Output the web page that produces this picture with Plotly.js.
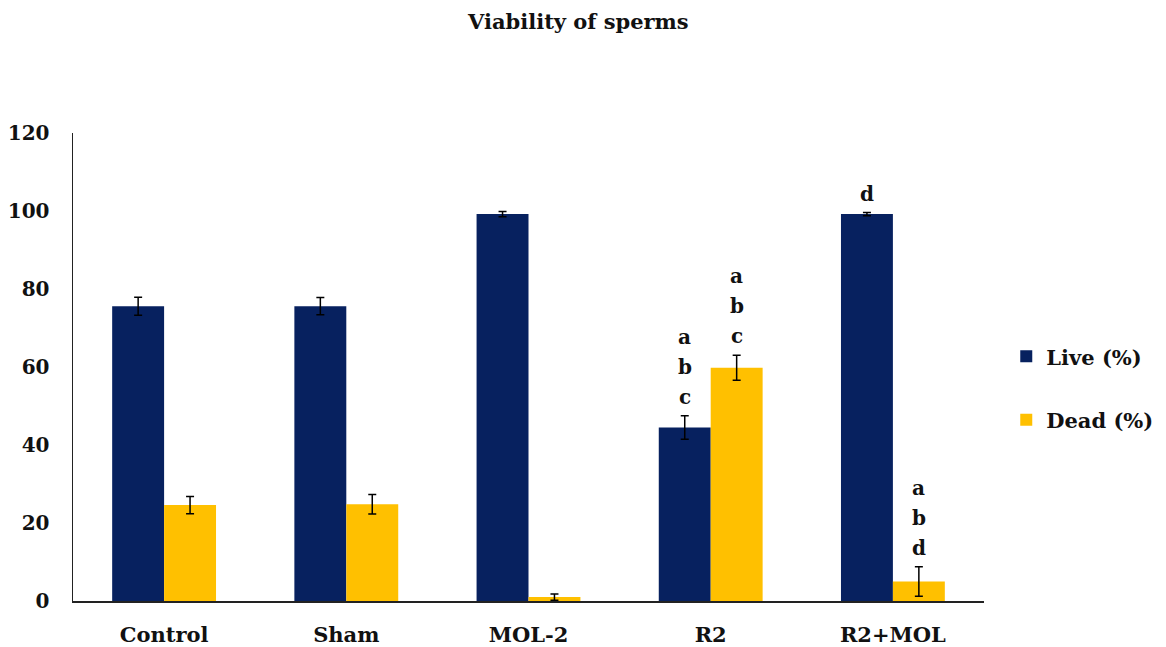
<!DOCTYPE html>
<html>
<head>
<meta charset="utf-8">
<script src="https://cdn.plot.ly/plotly-3.0.1.min.js"></script>
<style>html,body{margin:0;padding:0;background:#fff;}#chart{width:1166px;height:647px;}</style>
</head>
<body>
<div id="chart"></div>
<script>
const categories = ['Control', 'Sham', 'MOL-2', 'R2', 'R2+MOL'];
const liveValues = [75.6, 75.6, 99.2, 44.5, 99.2];
const liveErrors = [2.3, 2.2, 0.7, 3.0, 0.4];
const deadValues = [24.6, 24.8, 1.0, 59.8, 5.0];
const deadErrors = [2.2, 2.5, 0.8, 3.2, 3.8];
const liveLetters = ['', '', '', 'a,b,c', 'd'];
const deadLetters = ['', '', '', 'a,b,c', 'a,b,d'];
const yTicks = [0, 20, 40, 60, 80, 100, 120];

const navy = '#07215f';
const gold = '#ffc000';
const serif = 'DejaVu Serif';

const traces = [
  {
    type: 'bar', name: '<b>Live (%)</b>', x: categories, y: liveValues, legendgroup: 'live',
    marker: {color: navy},
    error_y: {type: 'data', array: liveErrors, visible: true, color: '#000', thickness: 1.5, width: 4}
  },
  {
    type: 'bar', name: '<b>Dead (%)</b>', x: categories, y: deadValues, legendgroup: 'dead',
    marker: {color: gold},
    error_y: {type: 'data', array: deadErrors, visible: true, color: '#000', thickness: 1.5, width: 4}
  }
];

const annotations = [];
function addLetters(letters, values, errors, xshift) {
  letters.forEach((s, i) => {
    if (!s) return;
    const parts = s.split(',');
    const n = parts.length;
    parts.forEach((p, j) => {
      annotations.push({
        x: categories[i], y: values[i] + errors[i], xref: 'x', yref: 'y',
        text: '<b>' + p + '</b>', showarrow: false, xshift: xshift,
        yanchor: 'middle', yshift: 19 + 30 * (n - 1 - j),
        font: {family: serif, size: 20, color: '#111'}
      });
    });
  });
}
addLetters(liveLetters, liveValues, liveErrors, -26);
addLetters(deadLetters, deadValues, deadErrors, 26);

const layout = {
  width: 1166, height: 647,
  paper_bgcolor: '#fff', plot_bgcolor: '#fff',
  margin: {l: 73, r: 182, t: 133, b: 46},
  title: {
    text: '<b>Viability of sperms</b>',
    font: {family: serif, size: 21, color: '#111'},
    x: 0.496, xanchor: 'center', yref: 'container', y: 0.966, yanchor: 'middle'
  },
  barmode: 'group', bargap: 0.43, bargroupgap: 0,
  showlegend: true,
  legend: {
    xref: 'container', yref: 'container',
    x: 0.863, xanchor: 'left', y: 0.40, yanchor: 'middle',
    font: {family: serif, size: 21, color: '#111'},
    traceorder: 'grouped', tracegroupgap: 33, itemwidth: 30,
    bgcolor: 'rgba(0,0,0,0)'
  },
  xaxis: {
    type: 'category', showline: true, linecolor: '#222', linewidth: 1.5,
    showgrid: false, zeroline: false, automargin: false,
    ticks: 'outside', ticklen: 14, tickcolor: 'rgba(0,0,0,0)',
    tickfont: {family: serif, size: 21, color: '#111'},
    tickprefix: '<b>', ticksuffix: '</b>'
  },
  yaxis: {
    range: [0, 120], tickvals: yTicks, ticktext: yTicks.map(v => '<b>' + v + '</b>'),
    showline: true, linecolor: '#222', linewidth: 1.5,
    showgrid: false, zeroline: false, automargin: false,
    ticks: 'outside', ticklen: 18, tickcolor: 'rgba(0,0,0,0)',
    tickfont: {family: serif, size: 20, color: '#111'}
  },
  annotations: annotations
};

Plotly.newPlot('chart', traces, layout, {displayModeBar: false, staticPlot: true});
</script>
</body>
</html>
